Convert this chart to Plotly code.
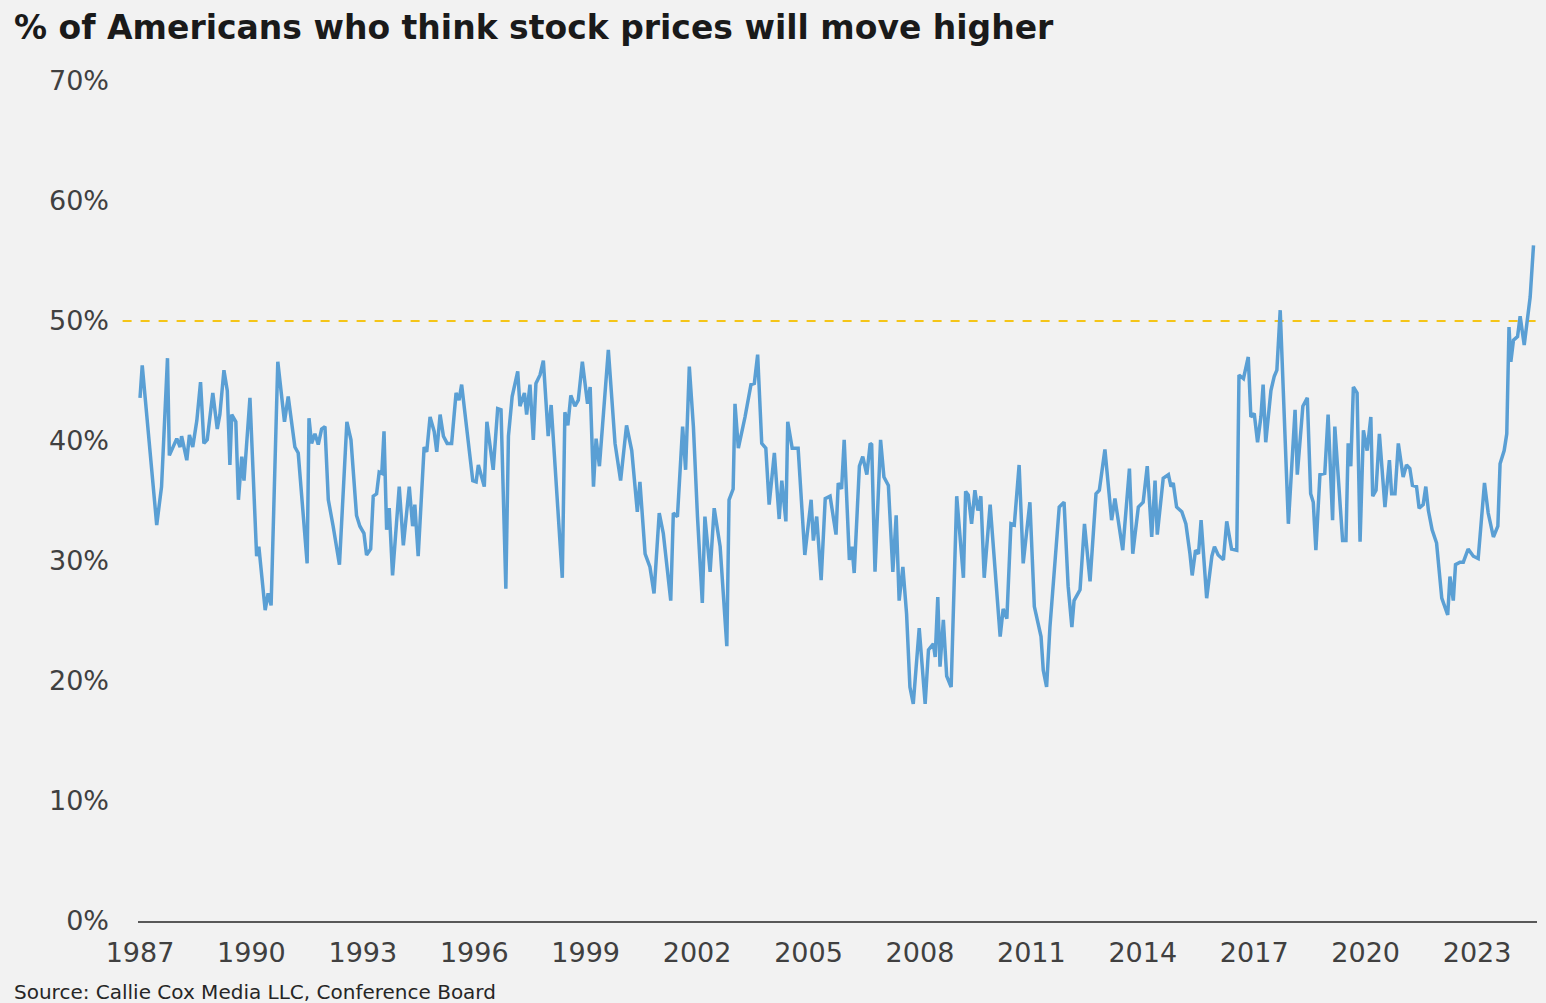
import plotly.graph_objects as go

title_text = "% of Americans who think stock prices will move higher"
source_text = "Source: Callie Cox Media LLC, Conference Board"

years = [
    1987.00, 1987.06, 1987.45, 1987.58, 1987.74, 1987.79, 1987.99, 1988.08, 1988.12, 1988.26,
    1988.33, 1988.42, 1988.53, 1988.63, 1988.72, 1988.81, 1988.96, 1989.08, 1989.15, 1989.26,
    1989.35, 1989.42, 1989.47, 1989.58, 1989.65, 1989.74, 1989.80, 1989.96, 1990.14, 1990.20,
    1990.37, 1990.45, 1990.53, 1990.71, 1990.89, 1990.99, 1991.17, 1991.26, 1991.50, 1991.55,
    1991.62, 1991.71, 1991.80, 1991.89, 1991.98, 1992.07, 1992.20, 1992.37, 1992.57, 1992.68,
    1992.83, 1992.92, 1993.03, 1993.10, 1993.21, 1993.28, 1993.37, 1993.44, 1993.51, 1993.57,
    1993.64, 1993.71, 1993.80, 1993.91, 1993.98, 1994.09, 1994.25, 1994.34, 1994.40, 1994.49,
    1994.65, 1994.72, 1994.81, 1994.92, 1994.99, 1995.08, 1995.17, 1995.27, 1995.39, 1995.51,
    1995.59, 1995.66, 1995.80, 1995.96, 1996.05, 1996.11, 1996.27, 1996.34, 1996.51, 1996.63,
    1996.72, 1996.85, 1996.92, 1997.02, 1997.17, 1997.23, 1997.35, 1997.41, 1997.50, 1997.59,
    1997.66, 1997.77, 1997.86, 1997.99, 1998.07, 1998.37, 1998.44, 1998.52, 1998.60, 1998.71,
    1998.80, 1998.91, 1999.05, 1999.12, 1999.21, 1999.28, 1999.37, 1999.61, 1999.79, 1999.94,
    2000.10, 2000.24, 2000.39, 2000.46, 2000.60, 2000.73, 2000.84, 2000.98, 2001.09, 2001.29,
    2001.36, 2001.47, 2001.61, 2001.69, 2001.79, 2001.90, 2002.01, 2002.14, 2002.21, 2002.35,
    2002.46, 2002.62, 2002.80, 2002.86, 2002.97, 2003.02, 2003.11, 2003.29, 2003.45, 2003.54,
    2003.63, 2003.74, 2003.85, 2003.94, 2004.08, 2004.21, 2004.28, 2004.39, 2004.44, 2004.56,
    2004.72, 2004.90, 2005.07, 2005.13, 2005.22, 2005.34, 2005.45, 2005.58, 2005.74, 2005.80,
    2005.89, 2005.96, 2006.10, 2006.17, 2006.23, 2006.37, 2006.46, 2006.57, 2006.66, 2006.70,
    2006.79, 2006.94, 2007.03, 2007.15, 2007.27, 2007.36, 2007.44, 2007.54, 2007.64, 2007.73,
    2007.82, 2007.98, 2008.14, 2008.23, 2008.36, 2008.41, 2008.48, 2008.54, 2008.63, 2008.72,
    2008.84, 2008.99, 2009.17, 2009.23, 2009.30, 2009.39, 2009.48, 2009.56, 2009.64, 2009.73,
    2009.89, 2010.16, 2010.24, 2010.34, 2010.45, 2010.54, 2010.67, 2010.78, 2010.96, 2011.08,
    2011.26, 2011.32, 2011.41, 2011.50, 2011.64, 2011.75, 2011.88, 2011.99, 2012.09, 2012.15,
    2012.31, 2012.43, 2012.58, 2012.74, 2012.83, 2012.98, 2013.16, 2013.25, 2013.46, 2013.64,
    2013.73, 2013.88, 2014.01, 2014.12, 2014.24, 2014.33, 2014.39, 2014.55, 2014.69, 2014.76,
    2014.82, 2014.91, 2015.05, 2015.16, 2015.27, 2015.33, 2015.42, 2015.50, 2015.57, 2015.63,
    2015.72, 2015.86, 2015.93, 2016.03, 2016.17, 2016.26, 2016.39, 2016.53, 2016.59, 2016.71,
    2016.84, 2016.91, 2017.00, 2017.09, 2017.18, 2017.24, 2017.31, 2017.45, 2017.54, 2017.61,
    2017.70, 2017.92, 2018.10, 2018.16, 2018.31, 2018.43, 2018.52, 2018.59, 2018.66, 2018.77,
    2018.90, 2018.99, 2019.11, 2019.17, 2019.29, 2019.38, 2019.47, 2019.53, 2019.60, 2019.67,
    2019.77, 2019.85, 2019.94, 2020.04, 2020.14, 2020.19, 2020.28, 2020.37, 2020.52, 2020.64,
    2020.70, 2020.79, 2020.88, 2021.01, 2021.10, 2021.19, 2021.26, 2021.37, 2021.44, 2021.55,
    2021.62, 2021.69, 2021.79, 2021.91, 2022.05, 2022.21, 2022.27, 2022.36, 2022.42, 2022.54,
    2022.63, 2022.76, 2022.90, 2023.03, 2023.20, 2023.30, 2023.44, 2023.56, 2023.62, 2023.73,
    2023.80, 2023.86, 2023.91, 2023.98, 2024.09, 2024.16, 2024.27, 2024.36, 2024.43, 2024.52,
]

pct_higher = [
    43.6, 46.3, 33.0, 36.2, 46.9, 38.8, 40.2, 39.5, 40.4, 38.4,
    40.5, 39.5, 41.7, 44.9, 39.8, 40.1, 44.0, 41.0, 42.2, 45.9,
    44.2, 38.0, 42.2, 41.6, 35.1, 38.7, 36.7, 43.6, 30.4, 31.2,
    25.9, 27.3, 26.3, 46.6, 41.6, 43.7, 39.5, 39.0, 29.8, 41.9,
    39.8, 40.6, 39.7, 41.0, 41.2, 35.1, 32.9, 29.7, 41.6, 40.1,
    33.8, 32.9, 32.3, 30.5, 31.0, 35.4, 35.6, 37.4, 37.3, 40.8,
    32.6, 34.4, 28.8, 34.0, 36.2, 31.3, 36.2, 32.9, 34.7, 30.4,
    39.5, 39.1, 42.0, 40.8, 39.1, 42.2, 40.4, 39.8, 39.8, 44.0,
    43.4, 44.7, 40.9, 36.7, 36.6, 38.0, 36.2, 41.6, 37.6, 42.7,
    42.6, 27.7, 40.4, 43.7, 45.8, 42.9, 44.0, 42.2, 44.7, 40.1,
    44.8, 45.5, 46.7, 40.4, 43.0, 28.6, 42.4, 41.3, 43.8, 42.9,
    43.4, 46.6, 43.1, 44.5, 36.2, 40.2, 37.9, 47.6, 39.8, 36.7,
    41.3, 39.2, 34.1, 36.6, 30.6, 29.5, 27.3, 34.0, 32.3, 26.7,
    34.0, 33.7, 41.2, 37.6, 46.2, 41.2, 33.7, 26.5, 33.7, 29.1,
    34.4, 31.2, 22.9, 35.1, 36.0, 43.1, 39.4, 42.0, 44.7, 44.8,
    47.2, 39.8, 39.4, 34.7, 39.0, 33.5, 36.7, 33.3, 41.6, 39.4,
    39.4, 30.5, 35.1, 31.7, 33.7, 28.4, 35.2, 35.4, 32.2, 36.5,
    36.0, 40.1, 30.1, 31.2, 29.0, 37.9, 38.7, 37.2, 39.8, 39.7,
    29.1, 40.1, 37.0, 36.3, 29.1, 33.8, 26.7, 29.5, 25.6, 19.5,
    18.1, 24.4, 18.1, 22.6, 23.1, 22.0, 27.0, 21.2, 25.1, 20.4,
    19.5, 35.4, 28.6, 35.8, 35.5, 33.1, 35.9, 34.2, 35.4, 28.6,
    34.7, 23.7, 26.0, 25.2, 33.1, 33.0, 38.0, 29.8, 34.9, 26.2,
    23.7, 20.9, 19.5, 24.5, 30.1, 34.5, 34.9, 27.9, 24.5, 26.7,
    27.6, 33.1, 28.3, 35.6, 35.9, 39.3, 33.4, 35.2, 30.9, 37.7,
    30.6, 34.5, 34.9, 37.9, 32.0, 36.7, 32.2, 36.9, 37.2, 36.2,
    36.5, 34.5, 34.1, 33.1, 30.6, 28.8, 30.9, 30.6, 33.4, 30.6,
    26.9, 30.4, 31.2, 30.5, 30.1, 33.3, 31.0, 30.9, 45.5, 45.2,
    47.0, 42.0, 42.3, 39.9, 42.0, 44.7, 39.9, 44.2, 45.4, 45.9,
    50.9, 33.1, 42.6, 37.2, 42.9, 43.6, 35.6, 34.9, 30.9, 37.2,
    37.3, 42.2, 33.4, 41.2, 35.6, 31.7, 31.7, 39.8, 37.9, 44.5,
    44.0, 31.6, 40.9, 39.2, 42.0, 35.4, 35.9, 40.6, 34.5, 38.4,
    35.6, 35.6, 39.8, 37.0, 38.0, 37.7, 36.3, 36.2, 34.4, 34.7,
    36.2, 34.2, 32.6, 31.5, 26.9, 25.5, 28.7, 26.7, 29.7, 29.9,
    29.9, 31.0, 30.4, 30.2, 36.5, 34.0, 32.0, 32.9, 38.1, 39.2,
    40.6, 49.5, 46.6, 48.4, 48.7, 50.4, 48.0, 50.1, 52.0, 56.3,
]

tick_years = [1987, 1990, 1993, 1996, 1999, 2002, 2005, 2008, 2011, 2014, 2017, 2020, 2023]
tick_labels = [str(y) for y in tick_years]
y_ticks = [0, 10, 20, 30, 40, 50, 60, 70]
y_tick_labels = ["0%", "10%", "20%", "30%", "40%", "50%", "60%", "70%"]
reference_level = 50

font_family = "DejaVu Sans"
text_color = "#404040"

fig = go.Figure()
fig.add_trace(go.Scatter(
    x=years, y=pct_higher, mode="lines",
    line=dict(color="#5a9fd4", width=3.5),
    hoverinfo="skip", showlegend=False,
))

fig.add_shape(
    type="line", xref="paper", yref="y",
    x0=-0.011, x1=1.0, y0=reference_level, y1=reference_level,
    line=dict(color="#f5c518", width=2, dash="dash"),
    layer="below",
)

fig.update_layout(
    width=1546, height=1003,
    margin=dict(l=138, r=9, t=81, b=82),
    paper_bgcolor="#f2f2f2", plot_bgcolor="#f2f2f2",
    font=dict(family=font_family, color=text_color),
    title=dict(
        text="<b>" + title_text + "</b>",
        x=14 / 1546, xanchor="left", xref="container",
        y=1 - 27 / 1003, yanchor="middle", yref="container",
        font=dict(family=font_family, size=33, color="#1a1a1a"),
    ),
    xaxis=dict(
        range=[1986.946, 2024.614],
        tickvals=tick_years, ticktext=tick_labels,
        showgrid=False, zeroline=False,
        showline=True, linecolor="#595959", linewidth=1.5,
        ticks="", ticklabelstandoff=7,
        tickfont=dict(size=27, color=text_color, family=font_family),
    ),
    yaxis=dict(
        range=[0, 70],
        tickvals=y_ticks, ticktext=y_tick_labels,
        showgrid=False, zeroline=False, showline=False,
        ticks="", ticklabelstandoff=28,
        tickfont=dict(size=27, color=text_color, family=font_family),
    ),
    annotations=[dict(
        text=source_text, showarrow=False,
        xref="paper", yref="paper",
        x=-126 / 1399, y=-71 / 840, xanchor="left", yanchor="middle",
        font=dict(size=20, color="#262626", family=font_family),
    )],
)

fig.write_html("out.html")
